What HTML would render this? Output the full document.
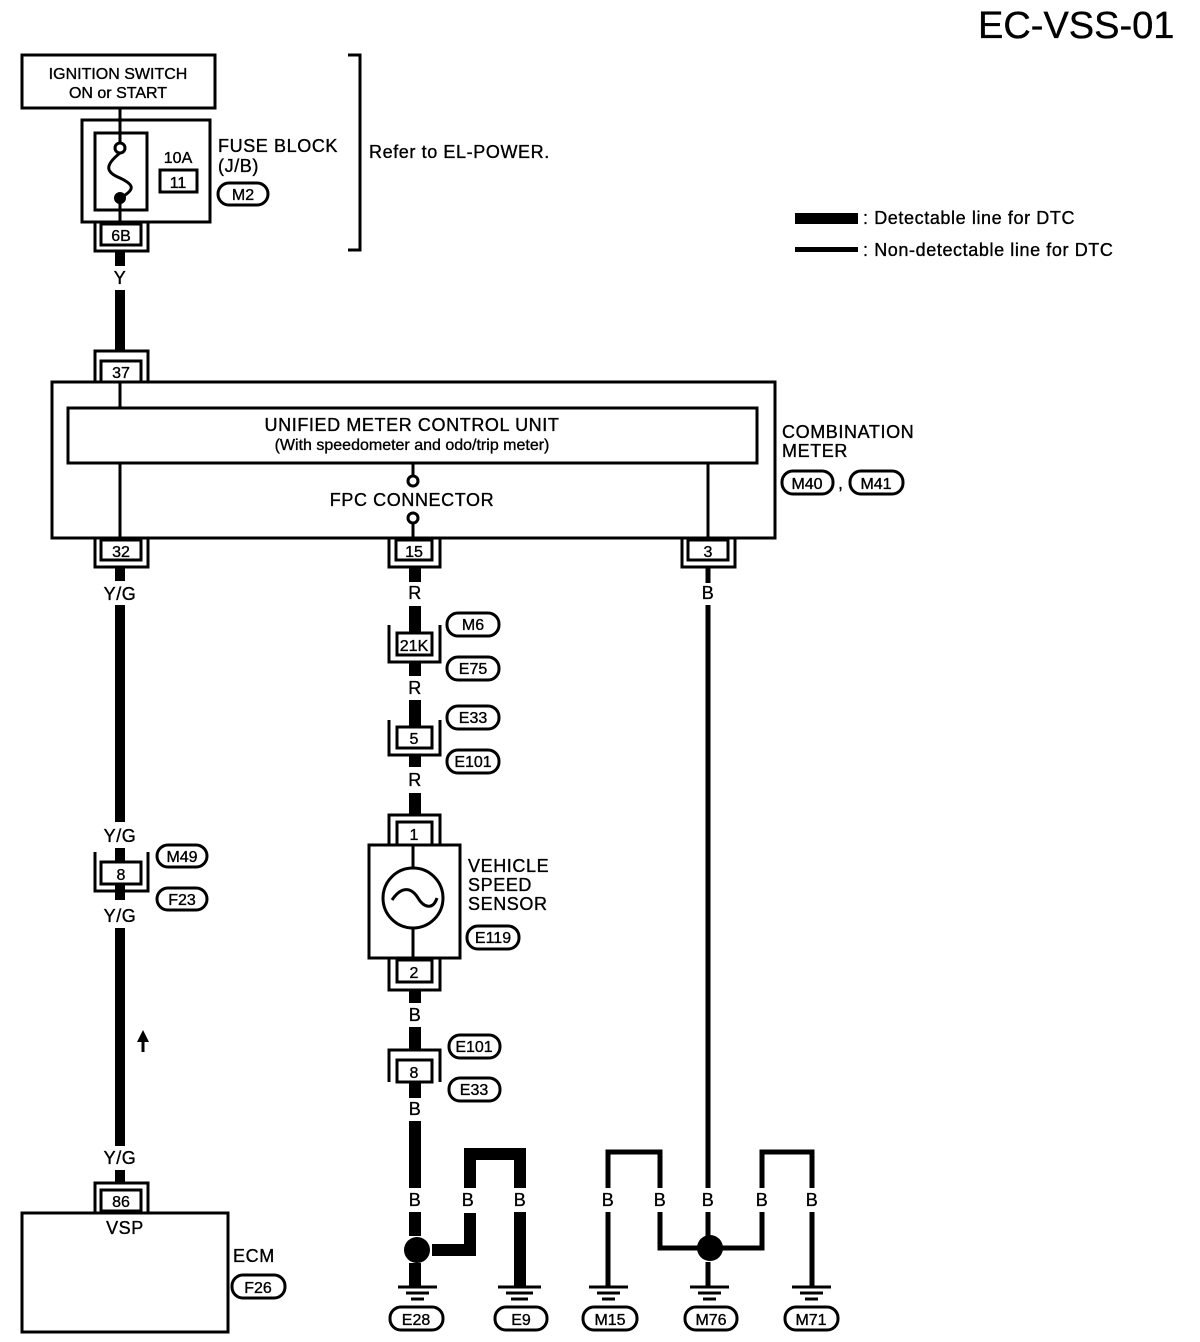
<!DOCTYPE html>
<html><head><meta charset="utf-8"><style>
html,body{margin:0;padding:0;background:#fff}
svg{display:block}
text{font-family:"Liberation Sans",sans-serif;font-size:18px;letter-spacing:0.6px;fill:#000;stroke:#000;stroke-width:0.35}
text.s{font-size:16px;letter-spacing:0}
</style></head><body>
<svg width="1200" height="1342" viewBox="0 0 1200 1342" xmlns="http://www.w3.org/2000/svg">
<g fill="none" stroke="#000" stroke-width="3">
<rect x="22" y="55" width="193" height="53"/>
<rect x="82" y="120" width="128" height="102"/>
<rect x="95" y="133" width="52" height="77"/>
<rect x="160" y="170" width="37" height="22"/>
<path d="M120 108V143M120 153C105 165 105 172 120 178C135 185 135 190 120 198V222"/>
<circle cx="120" cy="148" r="5"/>
<path d="M348 55H360V250H348"/>
<rect x="101" y="224" width="40" height="21"/>
<path d="M95 222V251H148V222"/>
<rect x="101" y="361" width="40" height="21"/>
<path d="M95 382V351H148V382"/>
<rect x="52" y="382" width="723" height="156"/>
<rect x="68" y="408" width="689" height="55"/>
<path d="M120 382V408M120 463V538M708 463V538M413 463V476M413 523V538"/>
<circle cx="413" cy="481" r="5"/>
<circle cx="413" cy="518" r="5"/>
<rect x="101" y="540" width="40" height="20"/><path d="M95 538V567H148V538"/>
<rect x="396" y="540" width="36" height="20"/><path d="M389 538V567H440V538"/>
<rect x="688" y="540" width="40" height="20"/><path d="M682 538V567H735V538"/>
<rect x="101" y="862" width="40" height="22"/><path d="M95 852V891H148V852"/>
<rect x="101" y="1190" width="40" height="21"/><path d="M95 1213V1183H148V1213"/>
<rect x="22" y="1213" width="206" height="119"/>
<rect x="397" y="633" width="35" height="22"/><path d="M389 625V662H440V625"/>
<rect x="397" y="727" width="35" height="21"/><path d="M389 720V755H440V720"/>
<rect x="397" y="822" width="35" height="23"/><path d="M389 845V815H440V845"/>
<rect x="369" y="845" width="91" height="113"/>
<circle cx="413" cy="898" r="30"/>
<path d="M413 845V868M413 928V958M392 900C402 885 412 888 418 898C424 908 433 910 437 898"/>
<rect x="397" y="960" width="35" height="22"/><path d="M389 958V990H440V958"/>
<rect x="397" y="1060" width="35" height="22"/><path d="M389 1082V1050H440V1082"/>
<path d="M398 1287H437M406 1293H429M411 1299H424"/>
<path d="M498 1287H541M506 1293H533M511 1299H528"/>
<path d="M589 1287H628M597 1293H620M602 1299H615"/>
<path d="M690 1287H729M698 1293H721M703 1299H716"/>
<path d="M792 1287H831M800 1293H823M805 1299H818"/>
<rect x="218" y="183" width="50" height="22" rx="11"/>
<rect x="782" y="471" width="51" height="23" rx="11"/>
<rect x="850" y="471" width="53" height="23" rx="11"/>
<rect x="157" y="845" width="50" height="22" rx="11"/>
<rect x="157" y="888" width="50" height="22" rx="11"/>
<rect x="232" y="1275" width="53" height="23" rx="11"/>
<rect x="447" y="613" width="52" height="23" rx="11"/>
<rect x="447" y="657" width="52" height="23" rx="11"/>
<rect x="447" y="706" width="52" height="23" rx="11"/>
<rect x="447" y="750" width="52" height="23" rx="11"/>
<rect x="467" y="926" width="52" height="23" rx="11"/>
<rect x="449" y="1035" width="51" height="23" rx="11"/>
<rect x="449" y="1078" width="51" height="23" rx="11"/>
<rect x="390" y="1307" width="53" height="23" rx="11"/>
<rect x="495" y="1307" width="52" height="23" rx="11"/>
<rect x="583" y="1307" width="54" height="23" rx="11"/>
<rect x="685" y="1307" width="52" height="23" rx="11"/>
<rect x="785" y="1307" width="53" height="23" rx="11"/>
</g>
<circle cx="120" cy="198" r="6" fill="#000"/>
<g fill="none" stroke="#000" stroke-width="10">
<path d="M120 251V266M120 290V351"/>
<path d="M120 567V581M120 605V822M120 928V1146"/>
<path d="M120 848V862M120 884V900"/>
<path d="M120 1170V1183"/>
</g>
<g fill="none" stroke="#000" stroke-width="12">
<path d="M415 567V582M415 606V633M415 662V676M415 700V727M415 755V767M415 793V815"/>
<path d="M415 990V1003M415 1027V1050M415 1082V1098M415 1121V1188M415 1212V1236M415 1263V1287"/>
<path d="M432 1250H470V1213M470 1188V1154H520V1188M520 1212V1287"/>
</g>
<g fill="none" stroke="#000" stroke-width="5">
<path d="M708 567V583M708 605V1188M708 1212V1236M708 1262V1287"/>
<path d="M608 1287V1212M608 1188V1152H660V1188M660 1212V1248H700"/>
<path d="M720 1248H762V1212M762 1188V1152H812V1188M812 1212V1287"/>
</g>
<circle cx="417" cy="1250" r="13" fill="#000"/>
<circle cx="710" cy="1248" r="13" fill="#000"/>
<path d="M143 1052V1040" stroke="#000" stroke-width="3"/>
<path d="M137 1042L143 1030L149 1042Z" fill="#000"/>
<rect x="795" y="213" width="63" height="11" fill="#000"/>
<rect x="795" y="247" width="63" height="5" fill="#000"/>
<text x="863" y="224">: Detectable line for DTC</text>
<text x="863" y="256">: Non-detectable line for DTC</text>
<text x="978" y="38" style="font-size:38px;letter-spacing:0">EC-VSS-01</text>
<text x="118" y="79" text-anchor="middle" class="s">IGNITION SWITCH</text>
<text x="118" y="98" text-anchor="middle" class="s">ON or START</text>
<text x="178" y="163" text-anchor="middle" class="s">10A</text>
<text x="178" y="188" text-anchor="middle" class="s">11</text>
<text x="218" y="152">FUSE BLOCK</text>
<text x="218" y="172">(J/B)</text>
<text x="243" y="200" text-anchor="middle" class="s">M2</text>
<text x="369" y="158">Refer to EL-POWER.</text>
<text x="121" y="241" text-anchor="middle" class="s">6B</text>
<text x="120" y="284" text-anchor="middle">Y</text>
<text x="121" y="378" text-anchor="middle" class="s">37</text>
<text x="412" y="431" text-anchor="middle">UNIFIED METER CONTROL UNIT</text>
<text x="412" y="450" text-anchor="middle" class="s">(With speedometer and odo/trip meter)</text>
<text x="412" y="506" text-anchor="middle">FPC CONNECTOR</text>
<text x="782" y="438">COMBINATION</text>
<text x="782" y="457">METER</text>
<text x="807" y="489" text-anchor="middle" class="s">M40</text>
<text x="838" y="489">,</text>
<text x="876" y="489" text-anchor="middle" class="s">M41</text>
<text x="121" y="557" text-anchor="middle" class="s">32</text>
<text x="414" y="557" text-anchor="middle" class="s">15</text>
<text x="708" y="557" text-anchor="middle" class="s">3</text>
<text x="120" y="600" text-anchor="middle">Y/G</text>
<text x="120" y="842" text-anchor="middle">Y/G</text>
<text x="121" y="880" text-anchor="middle" class="s">8</text>
<text x="182" y="862" text-anchor="middle" class="s">M49</text>
<text x="182" y="905" text-anchor="middle" class="s">F23</text>
<text x="120" y="922" text-anchor="middle">Y/G</text>
<text x="120" y="1164" text-anchor="middle">Y/G</text>
<text x="121" y="1207" text-anchor="middle" class="s">86</text>
<text x="125" y="1234" text-anchor="middle">VSP</text>
<text x="233" y="1262">ECM</text>
<text x="258" y="1293" text-anchor="middle" class="s">F26</text>
<text x="415" y="599" text-anchor="middle">R</text>
<text x="414" y="651" text-anchor="middle" class="s">21K</text>
<text x="473" y="630" text-anchor="middle" class="s">M6</text>
<text x="473" y="674" text-anchor="middle" class="s">E75</text>
<text x="415" y="694" text-anchor="middle">R</text>
<text x="414" y="744" text-anchor="middle" class="s">5</text>
<text x="473" y="723" text-anchor="middle" class="s">E33</text>
<text x="473" y="767" text-anchor="middle" class="s">E101</text>
<text x="415" y="786" text-anchor="middle">R</text>
<text x="414" y="840" text-anchor="middle" class="s">1</text>
<text x="468" y="872">VEHICLE</text>
<text x="468" y="891">SPEED</text>
<text x="468" y="910">SENSOR</text>
<text x="493" y="943" text-anchor="middle" class="s">E119</text>
<text x="414" y="978" text-anchor="middle" class="s">2</text>
<text x="415" y="1021" text-anchor="middle">B</text>
<text x="414" y="1078" text-anchor="middle" class="s">8</text>
<text x="474" y="1052" text-anchor="middle" class="s">E101</text>
<text x="474" y="1095" text-anchor="middle" class="s">E33</text>
<text x="415" y="1115" text-anchor="middle">B</text>
<text x="415" y="1206" text-anchor="middle">B</text>
<text x="468" y="1206" text-anchor="middle">B</text>
<text x="520" y="1206" text-anchor="middle">B</text>
<text x="608" y="1206" text-anchor="middle">B</text>
<text x="660" y="1206" text-anchor="middle">B</text>
<text x="708" y="1206" text-anchor="middle">B</text>
<text x="762" y="1206" text-anchor="middle">B</text>
<text x="812" y="1206" text-anchor="middle">B</text>
<text x="708" y="599" text-anchor="middle">B</text>
<text x="416" y="1325" text-anchor="middle" class="s">E28</text>
<text x="521" y="1325" text-anchor="middle" class="s">E9</text>
<text x="610" y="1325" text-anchor="middle" class="s">M15</text>
<text x="711" y="1325" text-anchor="middle" class="s">M76</text>
<text x="811" y="1325" text-anchor="middle" class="s">M71</text>
</svg>
</body></html>
